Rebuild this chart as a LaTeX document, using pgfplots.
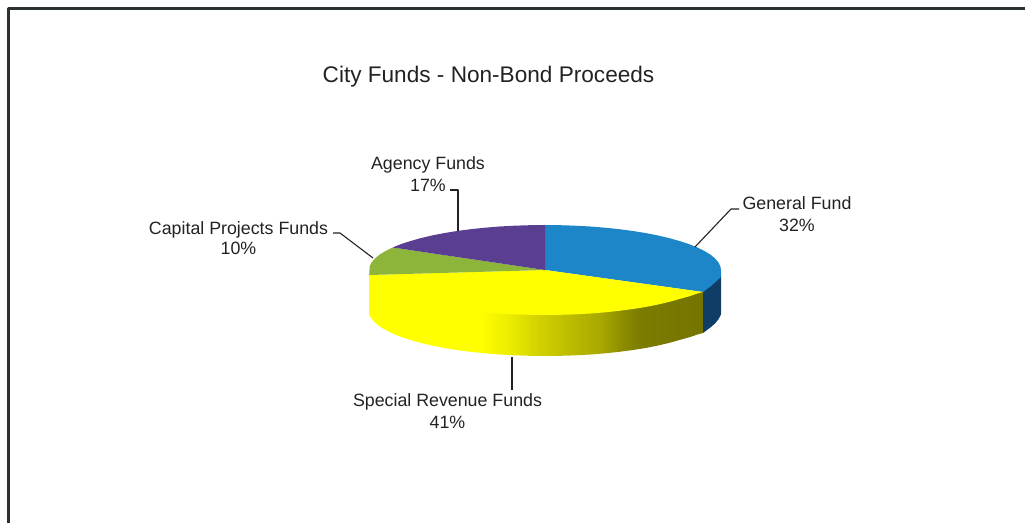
\documentclass[border=0pt]{standalone}
\usepackage{pgfplots}
\pgfplotsset{compat=1.18}
\usepackage{fontspec}
\setmainfont{Liberation Sans}

\definecolor{gfblue}{HTML}{1C86C9}
\definecolor{gfdark}{HTML}{0F3D66}
\definecolor{srfyellow}{HTML}{FFFF00}
\definecolor{cpfgreen}{HTML}{8CB53A}
\definecolor{afpurple}{HTML}{5A3E92}
\definecolor{frame}{HTML}{2A332E}
\definecolor{txt}{HTML}{222222}
\definecolor{sa}{HTML}{ECEC00}
\definecolor{sb}{HTML}{D0D000}
\definecolor{sc}{HTML}{A8A800}
\definecolor{sd}{HTML}{8C8C00}
\definecolor{se}{HTML}{7C7C00}
\definecolor{sf}{HTML}{747400}

% darkening of the yellow side, left to right
\pgfdeclarehorizontalshading{sideyellow}{100bp}{
  color(0bp)=(srfyellow);
  color(41.6bp)=(srfyellow);
  color(46bp)=(sa);
  color(50.6bp)=(sb);
  color(59.6bp)=(sc);
  color(63bp)=(sd);
  color(65.5bp)=(se);
  color(75bp)=(sf);
  color(100bp)=(sf)}

\tikzset{
  lab/.style={font=\fontsize{17.8}{17.8}\selectfont, text=txt, inner sep=0pt, anchor=center},
  lead/.style={draw=txt, line width=1.1pt}
}

\begin{document}
\begin{tikzpicture}
\useasboundingbox (0,0) rectangle (1025pt,523pt);
\begin{axis}[
    at={(0,0)}, anchor=south west,
    scale only axis,
    width=1025pt, height=523pt,
    xmin=0, xmax=1025,
    ymin=0, ymax=523,
    y dir=reverse,
    hide axis,
    clip=false,
    every axis plot/.append style={no markers, line join=round}
]

% frame, top and left only
\addplot[draw=frame, line width=3pt] coordinates {(8,523) (8,8.5) (1025,8.5)};

% side walls
\addplot[draw=none, shading=sideyellow] coordinates {
 (703,333) (697.4,334.5) (689.2,337.3) (679.8,339.9) (669.5,342.8) (658.1,345.5)
 (646,347.9) (633,350) (619.4,351.8) (605.2,353.3) (590.6,354.5) (575.6,355.3)
 (560.3,355.8) (545,356) (529.7,355.8) (514.4,355.3) (499.4,354.5) (484.8,353.3)
 (470.6,351.8) (457,350) (444,347.9) (431.9,345.5) (420.5,342.8) (410.2,339.9)
 (400.8,336.8) (392.6,333.5) (385.5,330) (379.6,326.4) (375,322.6) (371.7,318.8)
 (369.2,315) (369.2,275) (703,292)} --cycle;
\addplot[draw=none, fill=gfdark] coordinates {
 (721,272) (721,314) (720.3,316) (718.3,319.5) (715,323.5) (710.4,327.5)
 (703,333) (703,292)} --cycle;

% top face, one wedge per fund
\addplot[draw=none, fill=gfblue] coordinates {
 (545,270) (545,225) (560.3,225.2) (575.6,225.7) (590.6,226.5) (605.2,227.7)
 (619.4,229.2) (633,231) (646,233.1) (658.1,235.5) (669.5,238.2) (679.8,241.1)
 (689.2,244.2) (697.4,247.5) (704.5,251) (710.4,254.6) (715,258.4) (718.3,262.2)
 (720.3,266.1) (721,270) (720.8,277) (715,282.5) (710.4,286.5)
 (703,292)} --cycle;
\addplot[draw=none, fill=srfyellow] coordinates {
 (545,270) (703,292) (697.4,293.5) (689.2,296.3) (679.8,298.9) (669.5,301.8)
 (658.1,304.5) (646,306.9) (633,309) (619.4,310.8) (605.2,312.3) (590.6,313.5)
 (575.6,314.3) (560.3,314.8) (545,315) (529.7,314.8) (514.4,314.3) (499.4,313.5)
 (484.8,312.3) (470.6,310.8) (457,309) (444,306.9) (431.9,304.5) (420.5,301.8)
 (410.2,298.9) (400.8,295.8) (392.6,292.5) (385.5,289) (379.6,285.4) (375,281.6)
 (369.2,275)} --cycle;
\addplot[draw=none, fill=cpfgreen] coordinates {
 (545,270) (369.2,275) (369.7,266.1) (371.7,262.2) (375,258.4) (379.6,254.6)
 (385.5,251) (392.6,247.5)} --cycle;
\addplot[draw=none, fill=afpurple] coordinates {
 (545,270) (392.6,247.5) (400.8,244.2) (410.2,241.1) (420.5,238.2) (431.9,235.5)
 (444,233.1) (457,231) (470.6,229.2) (484.8,227.7) (499.4,226.5) (514.4,225.7)
 (529.7,225.2) (545,225)} --cycle;

% leader lines
\addplot[lead] coordinates {(695,247) (731,209) (739,209)};
\addplot[lead] coordinates {(450,190) (458,190) (458,231)};
\addplot[lead] coordinates {(333,233) (340,233) (373,258)};
\addplot[lead] coordinates {(512,357) (512,390)};

% title and labels
\node[lab, font=\fontsize{22.6}{22.6}\selectfont] at (axis cs:488.5,77) {City Funds - Non-Bond Proceeds};
\node[lab] at (axis cs:797,203.5) {General Fund};
\node[lab] at (axis cs:797,225.5) {32\%};
\node[lab] at (axis cs:428,165) {Agency Funds};
\node[lab] at (axis cs:428,185.5) {17\%};
\node[lab] at (axis cs:238.5,229.5) {Capital Projects Funds};
\node[lab] at (axis cs:238.5,248.5) {10\%};
\node[lab] at (axis cs:447.5,402) {Special Revenue Funds};
\node[lab] at (axis cs:447.5,422.5) {41\%};
\end{axis}
\end{tikzpicture}
\end{document}
